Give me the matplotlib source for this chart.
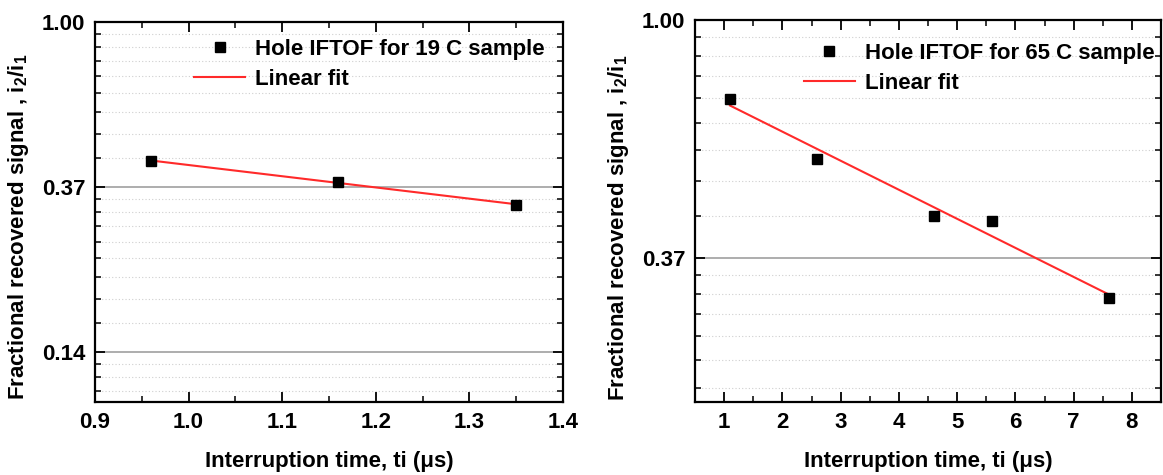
#!/usr/bin/env python3
import numpy as np
import matplotlib
matplotlib.use('Agg')
import matplotlib.pyplot as plt
from matplotlib.ticker import FixedLocator, FuncFormatter, NullFormatter, AutoMinorLocator

# left panel: 19 C sample
t_19 = [0.96, 1.16, 1.35]
r_19 = [0.430, 0.380, 0.330]
label_19 = 'Hole IFTOF for 19 C sample'

# right panel: 65 C sample
t_65 = [1.1, 2.6, 4.6, 5.6, 7.6]
r_65 = [0.717, 0.558, 0.439, 0.429, 0.310]
label_65 = 'Hole IFTOF for 65 C sample'

fit_label = 'Linear fit'
xlabel = 'Interruption time, ti (\u03bcs)'
ylabel = 'Fractional recovered signal , i$_2$/i$_1$'

# y axis is natural-log, majors at e^0, e^-1, e^-2
y_major = [np.exp(-2), np.exp(-1), 1.0]
x_ticks_19 = [0.9, 1.0, 1.1, 1.2, 1.3, 1.4]
x_ticks_65 = [1, 2, 3, 4, 5, 6, 7, 8]

plt.rcParams['font.family'] = ['Liberation Sans', 'DejaVu Sans']
plt.rcParams['font.weight'] = 'bold'
plt.rcParams['axes.labelweight'] = 'bold'
plt.rcParams['mathtext.fontset'] = 'custom'
plt.rcParams['mathtext.bf'] = 'Liberation Sans:bold'
plt.rcParams['mathtext.rm'] = 'Liberation Sans:bold'
plt.rcParams['mathtext.default'] = 'bf'


def minor_positions():
    # Origin style: 8 linear minor ticks between each e-decade
    out = []
    for k in range(-3, 1):
        lo, hi = np.exp(k - 1), np.exp(k)
        out += [lo + (hi - lo) * j / 9 for j in range(1, 9)]
    return out


def style_axis(ax, xlim, ylim, xticks, ylab_y):
    ax.set_yscale('log', base=np.e)
    ax.set_xlim(*xlim)
    ax.set_ylim(*ylim)
    ax.yaxis.set_major_locator(FixedLocator(y_major))
    ax.yaxis.set_major_formatter(FuncFormatter(lambda v, p: f'{v:.2f}'))
    ax.yaxis.set_minor_locator(FixedLocator(minor_positions()))
    ax.yaxis.set_minor_formatter(NullFormatter())
    ax.xaxis.set_major_locator(FixedLocator(xticks))
    ax.xaxis.set_minor_locator(AutoMinorLocator(2))
    ax.tick_params(which='both', direction='in', top=True, right=True)
    ax.tick_params(which='major', length=7, width=1.3, labelsize=16, pad=7)
    ax.tick_params(which='minor', length=4, width=1.1)
    ax.grid(axis='y', which='major', color='#a0a0a0', lw=1.2)
    ax.grid(axis='y', which='minor', color='#cfcfcf', lw=0.8, ls=(0, (1, 2)))
    ax.set_axisbelow(True)
    for s in ax.spines.values():
        s.set_linewidth(1.6)
    ax.set_xlabel(xlabel, fontsize=16, labelpad=13)
    ax.set_ylabel(ylabel, fontsize=16, labelpad=8)
    ax.yaxis.label.set_y(ylab_y)


def draw_panel(ax, t, r, label, legend_xy):
    t = np.asarray(t, dtype=float)
    r = np.asarray(r, dtype=float)
    ax.plot(t, r, 's', color='k', ms=7, ls='none', label=label, zorder=3)
    # straight-line fit of ln(signal) against time
    slope, icpt = np.polyfit(t, np.log(r), 1)
    xx = np.array([t.min(), t.max()])
    ax.plot(xx, np.exp(icpt + slope * xx), color='#ff2a2a', lw=1.5,
            label=fit_label, zorder=2)
    ax.legend(loc='upper left', bbox_to_anchor=legend_xy, frameon=False,
              borderpad=0, borderaxespad=0, handlelength=2.3,
              handletextpad=0.45, labelspacing=0.4, fontsize=16, numpoints=1)


def main():
    fig = plt.figure(figsize=(11.63, 4.75), dpi=100)
    ax1 = fig.add_axes([0.0817, 0.153, 0.4024, 0.8014])
    ax2 = fig.add_axes([0.5976, 0.153, 0.4007, 0.8049])

    style_axis(ax1, (0.9, 1.4), (0.1, 1.0), x_ticks_19, 0.46)
    draw_panel(ax1, t_19, r_19, label_19, (0.212, 0.955))

    style_axis(ax2, (0.5, 8.5), (0.2, 1.0), x_ticks_65, 0.457)
    draw_panel(ax2, t_65, r_65, label_65, (0.233, 0.94))

    fig.savefig('out.png', dpi=100)
    plt.close(fig)


if __name__ == '__main__':
    main()
